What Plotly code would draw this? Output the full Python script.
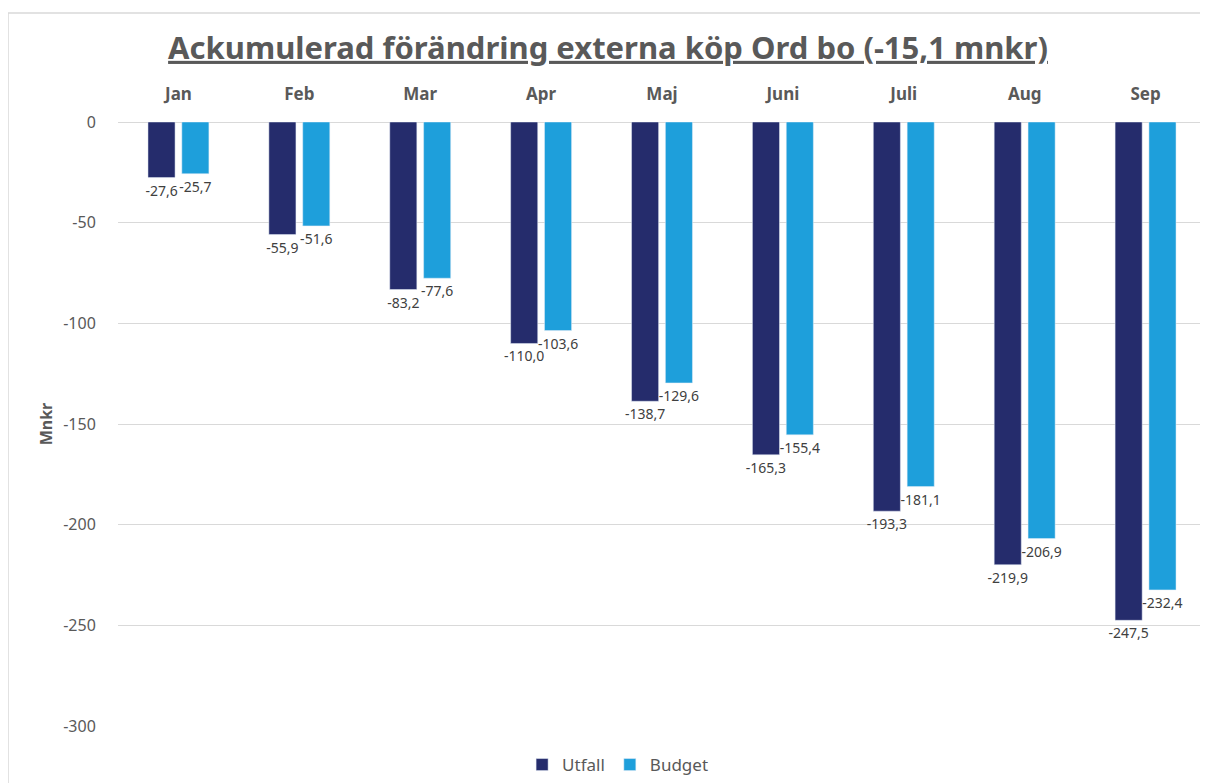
import plotly.graph_objects as go

months = ["Jan", "Feb", "Mar", "Apr", "Maj", "Juni", "Juli", "Aug", "Sep"]
utfall = [-27.6, -55.9, -83.2, -110.0, -138.7, -165.3, -193.3, -219.9, -247.5]
budget = [-25.7, -51.6, -77.6, -103.6, -129.6, -155.4, -181.1, -206.9, -232.4]
y_ticks = [0, -50, -100, -150, -200, -250, -300]
y_ticktext = ["0", "-50", "-100", "-150", "-200", "-250", "-300"]


def fmt(v):
    return f"{v:.1f}".replace(".", ",")


dark = "#252C6C"
light = "#1E9FDB"
txt = "#595959"
font = "Noto Sans"

W, H = 1200, 775
L, R, T, B = 110, 2, 114, 57
plot_w = W - L - R
plot_h = H - T - B

fig = go.Figure()
for name, vals, col in [("Utfall", utfall, dark), ("Budget", budget, light)]:
    fig.add_trace(go.Bar(
        name=name, x=months, y=vals, marker_color=col,
        text=[fmt(v) for v in vals], textposition="outside", cliponaxis=False,
        constraintext="none",
        textfont=dict(size=14, color="#404040", family=font),
    ))

fig.update_layout(
    width=W, height=H,
    margin=dict(l=L, r=R, t=T, b=B, autoexpand=False),
    paper_bgcolor="white", plot_bgcolor="white",
    barmode="group", bargap=0.44, bargroupgap=0.2,
    font=dict(family=font, color=txt),
    title=dict(
        text="<b><u>Ackumulerad förändring externa köp Ord bo (-15,1 mnkr)</u></b>",
        x=0.5, xref="container", xanchor="center",
        y=1 - 40 / H, yref="container", yanchor="middle",
        font=dict(size=31, color=txt, family=font),
    ),
    xaxis=dict(
        side="top", showgrid=False, showline=False, zeroline=False,
        tickfont=dict(size=17, color=txt, family=font),
        tickprefix="<b>", ticksuffix="</b>",
        ticks="outside", ticklen=14, tickcolor="rgba(0,0,0,0)",
        automargin=False,
    ),
    yaxis=dict(
        range=[-300, 0], tickvals=y_ticks, ticktext=y_ticktext,
        showgrid=True, gridcolor="#D9D9D9",
        zeroline=True, zerolinecolor="#D9D9D9", zerolinewidth=1,
        tickfont=dict(size=16, color=txt, family=font),
        ticks="outside", ticklen=18, tickcolor="rgba(0,0,0,0)",
        title=dict(text="<b>Mnkr</b>", font=dict(size=16, color=txt, family=font), standoff=6),
        automargin=False,
    ),
    legend=dict(
        orientation="h", xref="container", x=0.508, xanchor="center",
        y=-39 / plot_h, yanchor="middle",
        font=dict(size=17, color=txt, family=font),
        traceorder="normal",
    ),
    shapes=[dict(
        type="rect", xref="paper", yref="paper",
        x0=-L / plot_w, x1=1.2, y0=-0.2, y1=(plot_h + T - 5) / plot_h,
        line=dict(color="#D9D9D9", width=1.5), fillcolor="rgba(0,0,0,0)", layer="below",
    )],
)

fig.write_html("out.html")
